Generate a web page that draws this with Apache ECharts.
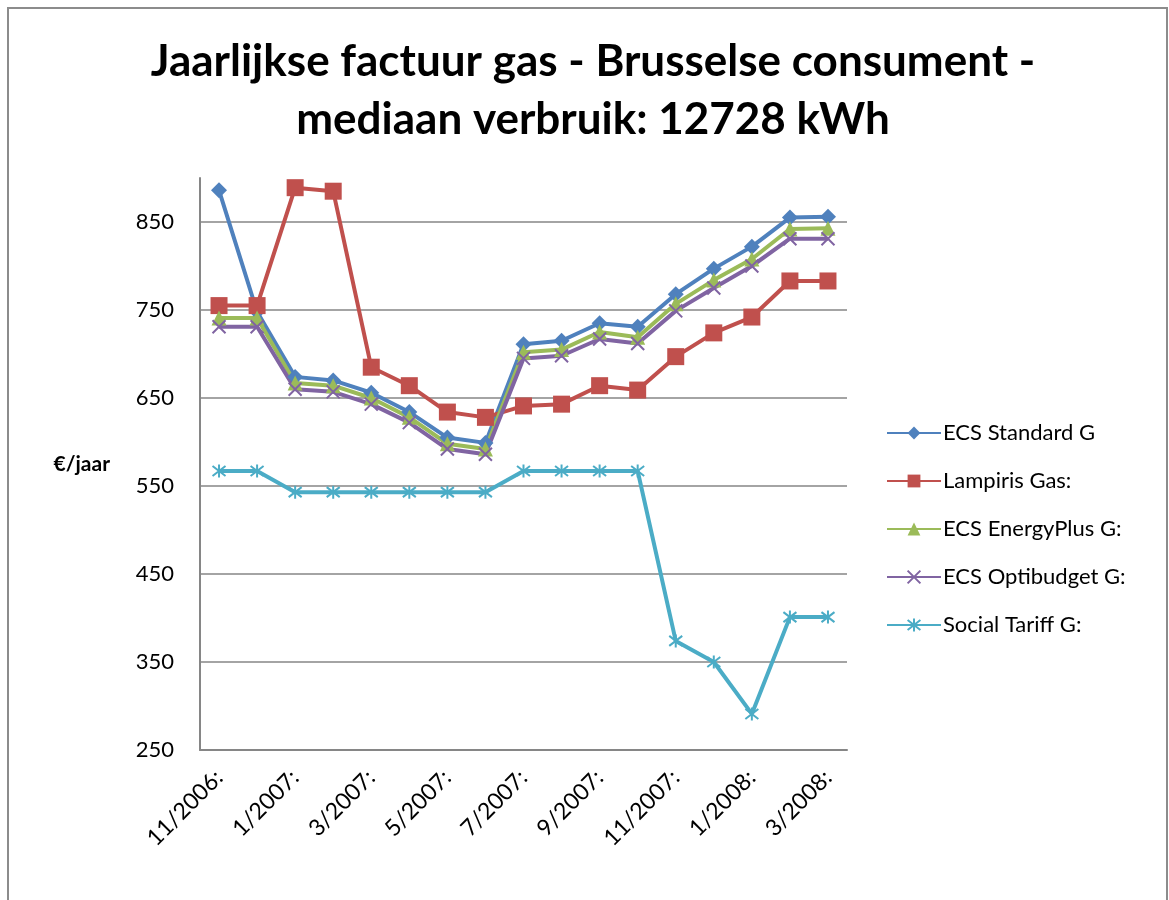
<!DOCTYPE html>
<html>
<head>
<meta charset="utf-8">
<script src="https://cdn.jsdelivr.net/npm/echarts@6/dist/echarts.min.js"></script>
<style>
  html, body { margin: 0; padding: 0; background: #fff; }
  #chart { width: 1169px; height: 900px; }
</style>
</head>
<body>
<div id="chart"></div>
<script>
// months shown on the x axis (every other one gets a label)
const months = ['11/2006:', '12/2006:', '1/2007:', '2/2007:', '3/2007:', '4/2007:', '5/2007:', '6/2007:',
  '7/2007:', '8/2007:', '9/2007:', '10/2007:', '11/2007:', '12/2007:', '1/2008:', '2/2008:', '3/2008:']

const ecsStandard = [886, 748, 674, 670, 656, 634, 605, 599, 711, 715, 735, 731, 768, 797, 822, 855, 856]
const lampiris = [755, 755, 889, 885, 685, 664, 634, 628, 641, 643, 664, 659, 697, 724, 742, 783, 783]
const ecsEnergyPlus = [741, 741, 667, 664, 650, 628, 598, 592, 702, 705, 725, 719, 757, 784, 808, 842, 843]
const ecsOptibudget = [731, 731, 660, 657, 643, 622, 592, 586, 695, 698, 717, 712, 749, 775, 800, 831, 831]
const socialTariff = [567, 567, 543, 543, 543, 543, 543, 543, 567, 567, 567, 567, 374, 350, 291, 401, 401]

const seriesNames = ['ECS Standard G', 'Lampiris Gas:', 'ECS EnergyPlus G:', 'ECS Optibudget G:', 'Social Tariff G:']
const colors = ['#4F81BD', '#C0504D', '#9BBB59', '#8064A2', '#4BACC6']

const FONT = 'Lato'
const crossPath = 'path://M0,0L10,10M10,0L0,10'
const starPath = 'path://M0,0L10,10M10,0L0,10M5,-1.5L5,11.5'

function makeLine(name, data, color, symbol, size, stroked) {
  return {
    name: name,
    type: 'line',
    data: data,
    symbol: symbol,
    symbolSize: size,
    showAllSymbol: true,
    lineStyle: { color: color, width: 4 },
    itemStyle: stroked
      ? { color: 'rgba(0,0,0,0)', borderColor: color, borderWidth: 2 }
      : { color: color, borderWidth: 0 },
    emphasis: { disabled: true },
    animation: false
  }
}

const chart = echarts.init(document.getElementById('chart'))
chart.setOption({
  backgroundColor: '#fff',
  color: colors,
  title: {
    text: 'Jaarlijkse factuur gas - Brusselse consument -\nmediaan verbruik: 12728 kWh',
    left: 588,
    textAlign: 'center',
    top: 28,
    textStyle: { fontFamily: FONT, fontWeight: 'bold', fontSize: 44, lineHeight: 58, color: '#000' }
  },
  graphic: [{
    type: 'rect',
    shape: { x: 8, y: 8, width: 1159, height: 900 },
    style: { fill: 'none', stroke: '#8c8c8c', lineWidth: 2 },
    silent: true
  }],
  legend: {
    orient: 'vertical',
    left: 881,
    top: 417,
    itemWidth: 54,
    itemHeight: 16,
    itemGap: 26,
    textStyle: { fontFamily: FONT, fontSize: 22, color: '#000', padding: [0, 0, 0, -3] },
    data: seriesNames
  },
  grid: { left: 200, right: 1169 - 847, top: 178, bottom: 900 - 750, containLabel: false },
  xAxis: {
    type: 'category',
    data: months,
    boundaryGap: true,
    axisLine: { lineStyle: { color: '#868686', width: 2 } },
    axisTick: { show: false },
    axisLabel: { interval: 1, rotate: 45, fontFamily: FONT, fontSize: 23, color: '#000', margin: 24 }
  },
  yAxis: {
    type: 'value',
    min: 250,
    max: 900,
    interval: 100,
    name: '€/jaar',
    nameLocation: 'middle',
    nameRotate: 0,
    nameGap: 90,
    nameTextStyle: { fontFamily: FONT, fontWeight: 'bold', fontSize: 21, color: '#000' },
    axisLine: { show: true, lineStyle: { color: '#868686', width: 2 } },
    axisTick: { show: false },
    axisLabel: { showMaxLabel: false, fontFamily: FONT, fontSize: 22, color: '#000', margin: 26 },
    splitLine: { showMaxLine: false, lineStyle: { color: '#868686', width: 1.5 } }
  },
  series: [
    makeLine(seriesNames[0], ecsStandard, colors[0], 'diamond', 16, false),
    makeLine(seriesNames[1], lampiris, colors[1], 'rect', 17, false),
    makeLine(seriesNames[2], ecsEnergyPlus, colors[2], 'triangle', 15, false),
    makeLine(seriesNames[3], ecsOptibudget, colors[3], crossPath, 13, true),
    makeLine(seriesNames[4], socialTariff, colors[4], starPath, 13, true)
  ]
})
</script>
</body>
</html>
